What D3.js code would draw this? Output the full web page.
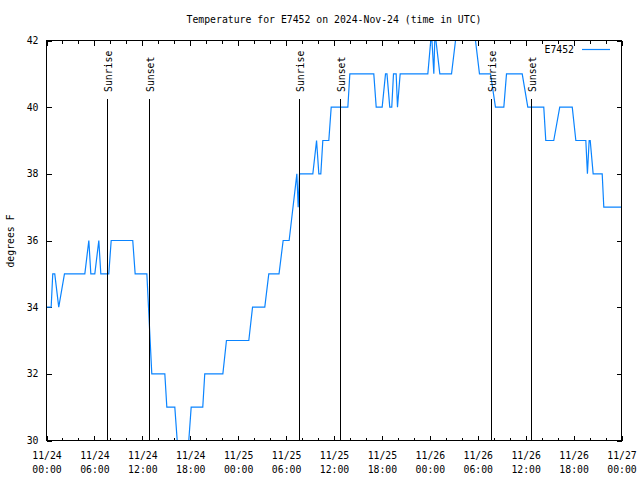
<!DOCTYPE html>
<html><head><meta charset="utf-8">
<script src="https://cdn.jsdelivr.net/npm/d3@7"></script>
<style>
body{margin:0;background:#fff;}
svg{font-family:"DejaVu Sans Mono",monospace;}
</style></head>
<body><svg id="c" width="640" height="480"></svg>
<script>
const title = "Temperature for E7452 on 2024-Nov-24 (time in UTC)";
const seriesName = "E7452";
const yLabel = "degrees F";
const times = [
"2024-11-24 00:00","2024-11-24 00:35","2024-11-24 00:47","2024-11-24 01:02","2024-11-24 01:32","2024-11-24 02:15",
"2024-11-24 04:48","2024-11-24 05:18","2024-11-24 05:33","2024-11-24 06:03","2024-11-24 06:33","2024-11-24 06:48",
"2024-11-24 07:48","2024-11-24 08:06","2024-11-24 10:48","2024-11-24 11:06","2024-11-24 12:34","2024-11-24 13:11",
"2024-11-24 14:49","2024-11-24 15:04","2024-11-24 16:04","2024-11-24 16:22","2024-11-24 17:49","2024-11-24 18:07",
"2024-11-24 19:34","2024-11-24 19:49","2024-11-24 22:05","2024-11-24 22:32",
"2024-11-25 01:20","2024-11-25 01:48","2024-11-25 03:20","2024-11-25 03:50","2024-11-25 05:07","2024-11-25 05:38",
"2024-11-25 06:23","2024-11-25 07:21","2024-11-25 07:31","2024-11-25 07:41","2024-11-25 09:21","2024-11-25 09:49",
"2024-11-25 10:06","2024-11-25 10:21","2024-11-25 10:36","2024-11-25 11:21","2024-11-25 11:39","2024-11-25 13:44",
"2024-11-25 13:59","2024-11-25 16:59","2024-11-25 17:17","2024-11-25 18:02","2024-11-25 18:27","2024-11-25 18:38",
"2024-11-25 18:59","2024-11-25 19:14","2024-11-25 19:27","2024-11-25 19:47","2024-11-25 19:57","2024-11-25 20:17",
"2024-11-25 23:45",
"2024-11-26 00:07","2024-11-26 00:16","2024-11-26 00:30","2024-11-26 00:37","2024-11-26 00:46","2024-11-26 01:15",
"2024-11-26 02:43","2024-11-26 03:13","2024-11-26 05:43","2024-11-26 06:13","2024-11-26 07:36","2024-11-26 08:13",
"2024-11-26 09:16","2024-11-26 09:36","2024-11-26 11:34","2024-11-26 12:16","2024-11-26 14:16","2024-11-26 14:31",
"2024-11-26 15:31","2024-11-26 16:16","2024-11-26 17:50","2024-11-26 18:17","2024-11-26 19:32","2024-11-26 19:44",
"2024-11-26 19:57","2024-11-26 20:05","2024-11-26 20:27","2024-11-26 21:35","2024-11-26 21:47","2024-11-27 00:00"
];
const temps = [
34,34,35,35,34,35,
35,36,35,35,36,35,
35,36,36,35,35,32,
32,31,31,30,30,31,
31,32,32,33,
33,34,34,35,35,36,
36,38,37,38,38,39,
38,38,39,39,40,40,
41,41,40,40,41,41,
40,40,41,41,40,41,
41,
42,42,41,42,42,41,
41,42,42,41,41,40,
40,41,41,40,40,39,
39,40,40,39,39,38,
39,39,38,38,37,37
];
const sunTimes = ["2024-11-24 07:38","2024-11-24 12:54","2024-11-25 07:41","2024-11-25 12:49","2024-11-26 07:43","2024-11-26 12:44"];
const sunLabels = ["Sunrise","Sunset","Sunrise","Sunset","Sunrise","Sunset"];
const xDomain = ["2024-11-24 00:00","2024-11-27 00:00"];
const yDomain = [30,42];
const yTicks = [30,32,34,36,38,40,42];

const parse = d3.utcParse("%Y-%m-%d %H:%M");
const data = times.map((t,i)=>({t:parse(t), v:temps[i]}));
const L=46.5,R=621.5,T=40.5,B=440.5;
const x = d3.scaleUtc().domain(xDomain.map(parse)).range([L,R]);
const y = d3.scaleLinear().domain(yDomain).range([B,T]);
const svg = d3.select("#c");
const fs = "9.8px";

svg.append("defs").append("clipPath").attr("id","clip")
  .append("rect").attr("x",L).attr("y",T).attr("width",R-L).attr("height",B-T);

// title
svg.append("text").attr("x",334).attr("y",23).attr("text-anchor","middle")
  .style("font-size",fs).text(title);
// y label
svg.append("text").attr("transform","translate(14,241) rotate(-90)").attr("text-anchor","middle")
  .style("font-size",fs).text(yLabel);

const majorX = d3.utcHour.every(6).range(x.domain()[0], d3.utcHour.offset(x.domain()[1],1));
const minorX = d3.utcHour.every(2).range(x.domain()[0], d3.utcHour.offset(x.domain()[1],1));
const fmt1 = d3.utcFormat("%m/%d"), fmt2 = d3.utcFormat("%H:%M");

function styleAxis(g){
  g.select(".domain").remove();
  g.selectAll("line").attr("stroke","#000").attr("shape-rendering","crispEdges");
  g.selectAll("text").style("font-size",fs).style("font-family","DejaVu Sans Mono, monospace").attr("fill","#000");
}
// bottom minor + major
svg.append("g").attr("transform",`translate(0,${B})`)
  .call(d3.axisBottom(x).tickValues(minorX).tickSize(-3).tickFormat("")).call(styleAxis);
const gb = svg.append("g").attr("transform",`translate(0,${B})`)
  .call(d3.axisBottom(x).tickValues(majorX).tickSize(-5).tickPadding(0).tickFormat(fmt1)).call(styleAxis);
gb.selectAll(".tick text").each(function(d){
  const t = d3.select(this); t.text(null).attr("y",0).attr("dy",null);
  t.append("tspan").attr("x",0).attr("y",18).text(fmt1(d));
  t.append("tspan").attr("x",0).attr("y",32).text(fmt2(d));
});
// top
svg.append("g").attr("transform",`translate(0,${T})`)
  .call(d3.axisTop(x).tickValues(minorX).tickSize(-3).tickFormat("")).call(styleAxis);
svg.append("g").attr("transform",`translate(0,${T})`)
  .call(d3.axisTop(x).tickValues(majorX).tickSize(-5).tickFormat("")).call(styleAxis);
// left
svg.append("g").attr("transform",`translate(${L},0)`)
  .call(d3.axisLeft(y).tickValues(yTicks).tickSize(-5).tickPadding(8).tickFormat(d3.format("d"))).call(styleAxis);
// right
svg.append("g").attr("transform",`translate(${R},0)`)
  .call(d3.axisRight(y).tickValues(yTicks).tickSize(-5).tickFormat("")).call(styleAxis);

// data line
svg.append("path").datum(data).attr("clip-path","url(#clip)")
  .attr("fill","none").attr("stroke","#0a84ff").attr("stroke-width",1.2)
  .attr("d", d3.line().x(d=>x(d.t)).y(d=>y(d.v)));

// sun lines
const sun = sunTimes.map((t,i)=>({t:parse(t), label:sunLabels[i]}));
svg.selectAll(".sunline").data(sun).enter().append("line")
  .attr("x1",d=>Math.floor(x(d.t))+0.5).attr("x2",d=>Math.floor(x(d.t))+0.5)
  .attr("y1",99).attr("y2",B).attr("stroke","#000").attr("stroke-width",1).attr("shape-rendering","crispEdges");
svg.selectAll(".sunlabel").data(sun).enter().append("text")
  .attr("transform",d=>`translate(${Math.floor(x(d.t))+4.5},92) rotate(-90)`)
  .style("font-size",fs).text(d=>d.label);

// border
svg.append("rect").attr("x",L).attr("y",T).attr("width",R-L).attr("height",B-T)
  .attr("fill","none").attr("stroke","#000").attr("shape-rendering","crispEdges");

// legend
svg.append("text").attr("x",574).attr("y",53).attr("text-anchor","end").style("font-size",fs).text(seriesName);
svg.append("line").attr("x1",582).attr("x2",610).attr("y1",49.5).attr("y2",49.5)
  .attr("stroke","#0a84ff").attr("stroke-width",1.2);
</script></body></html>
